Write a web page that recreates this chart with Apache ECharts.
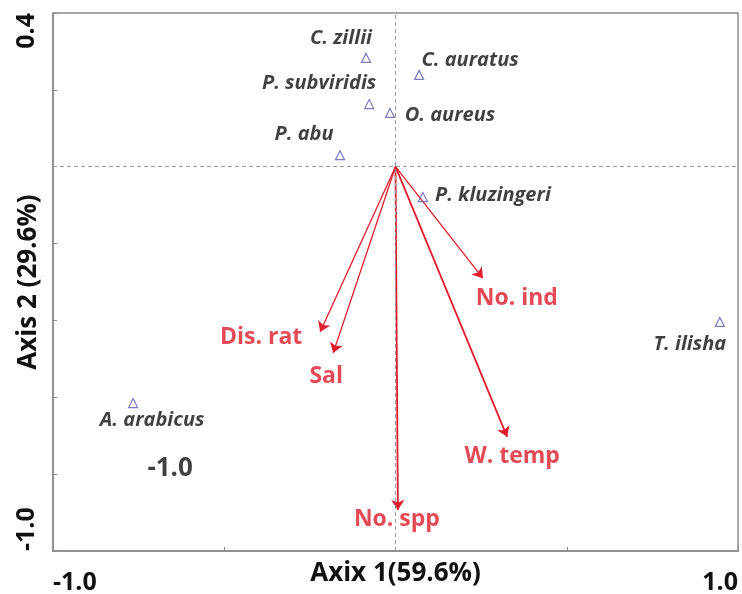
<!DOCTYPE html>
<html>
<head>
<meta charset="utf-8">
<script src="https://cdn.jsdelivr.net/npm/echarts@6/dist/echarts.min.js"></script>
<style>
html,body{margin:0;padding:0;background:#fff;}
#c{width:742px;height:594px;}
</style>
</head>
<body>
<div id="c"></div>
<script>
// ---- data ----
var speciesNames = ['C. zillii','P. subviridis','P. abu','C. auratus','O. aureus','P. kluzingeri','T. ilisha','A. arabicus'];
var speciesX = [-0.086, -0.077, -0.162, 0.069, -0.016, 0.080, 0.947, -0.766];
var speciesY = [0.283, 0.163, 0.030, 0.239, 0.140, -0.079, -0.404, -0.615];

var varNames = ['Dis. rat','Sal','No. ind','W. temp','No. spp'];
var varX = [-0.220, -0.182, 0.255, 0.326, 0.007];
var varY = [-0.430, -0.485, -0.290, -0.703, -0.893];

var xTickLabels = [-1.0, 1.0];
var yTickLabels = [0.4, -1.0];
var strayLabel = {text: '-1.0', x: -0.658, y: -0.785};

var xAxisTitle = 'Axix 1(59.6%)';
var yAxisTitle = 'Axis 2 (29.6%)';

// ---- label placement (pixel offsets, style only) ----
var speciesOffsets = {
  'C. zillii': [-25, -20],
  'P. subviridis': [-50, -21],
  'P. abu': [-36, -21],
  'C. auratus': [51, -15],
  'O. aureus': [60, 2],
  'P. kluzingeri': [70, -2],
  'T. ilisha': [-30, 22],
  'A. arabicus': [19, 17]
};
var varOffsets = {
  'Dis. rat': [-59, 5],
  'Sal': [-7, 23],
  'No. ind': [34, 20],
  'W. temp': [5, 20],
  'No. spp': [-1, 10]
};
var arrowWidths = {'Dis. rat':1.3, 'Sal':1.3, 'No. ind':1.3, 'W. temp':1.8, 'No. spp':1.8};

var FONT = 'Open Sans';
var RED = '#e01b2c';
var AXFS = 25;
var NAMEFS = 26;
var INK = '#111';

function isTickLabel(v, list){
  for (var i=0;i<list.length;i++){ if (Math.abs(v-list[i])<1e-6) return true; }
  return false;
}
function fmt(v){ return (Math.round(v*10)/10).toFixed(1); }

var speciesData = speciesNames.map(function(n,i){
  return {name:n, value:[speciesX[i], speciesY[i]],
    label:{offset:speciesOffsets[n]}};
});
var arrowData = varNames.map(function(n,i){
  return {name:n, coords:[[0,0],[varX[i],varY[i]]], lineStyle:{width:arrowWidths[n]}};
});
var varLabelData = varNames.map(function(n,i){
  return {name:n, value:[varX[i],varY[i]], label:{offset:varOffsets[n]}};
});

var chart = echarts.init(document.getElementById('c'));
chart.setOption({
  animation:false,
  backgroundColor:'#fff',
  grid:{left:53, top:13, right:4, bottom:43, containLabel:false, outerBoundsMode:'none',
    show:true, borderColor:'#8a8a8a', borderWidth:1.5},
  xAxis:{
    type:'value', min:-1, max:1, interval:0.5,
    name:xAxisTitle, nameLocation:'middle', nameGap:10, nameMoveOverlap:false,
    nameTextStyle:{fontFamily:FONT, fontWeight:'bold', fontSize:NAMEFS, color:INK},
    axisLine:{show:true, onZero:false, lineStyle:{color:'#8a8a8a', width:1.5}},
    axisTick:{show:true, inside:true, length:4, lineStyle:{color:'#8a8a8a'}},
    splitLine:{show:false},
    axisLabel:{fontFamily:FONT, fontWeight:'bold', fontSize:AXFS, color:INK, margin:19,
      alignMinLabel:'left', alignMaxLabel:'right',
      formatter:function(v){ return isTickLabel(v, xTickLabels) ? fmt(v) : ''; }}
  },
  yAxis:{
    type:'value', min:-1, max:0.4, interval:0.2,
    name:yAxisTitle, nameLocation:'middle', nameGap:11, nameRotate:90, nameMoveOverlap:false,
    nameTextStyle:{fontFamily:FONT, fontWeight:'bold', fontSize:NAMEFS, color:INK},
    axisLine:{show:true, onZero:false, lineStyle:{color:'#8a8a8a', width:1.5}},
    axisTick:{show:true, inside:true, length:4, lineStyle:{color:'#8a8a8a'}},
    splitLine:{show:false},
    axisLabel:{fontFamily:FONT, fontWeight:'bold', fontSize:AXFS, color:INK, margin:14, rotate:90,
      alignMinLabel:'left', alignMaxLabel:'right',
      formatter:function(v){ return isTickLabel(v, yTickLabels) ? fmt(v) : ''; }}
  },
  series:[
    {
      type:'scatter', name:'axes0', data:[], silent:true,
      markLine:{silent:true, symbol:'none', label:{show:false},
        lineStyle:{color:'#9a9a9a', type:[4,3], width:1},
        data:[{xAxis:0},{yAxis:0}]}
    },
    {
      type:'lines', coordinateSystem:'cartesian2d', data:arrowData, silent:true,
      symbol:['none','arrow'], symbolSize:[0,10],
      lineStyle:{color:RED, width:1.4, opacity:1}
    },
    {
      type:'scatter', data:varLabelData, symbolSize:0, silent:true,
      label:{show:true, position:'inside', formatter:'{b}', color:RED,
        fontFamily:FONT, fontWeight:'bold', fontSize:23}
    },
    {
      type:'scatter', data:speciesData, symbol:'triangle', symbolSize:9,
      itemStyle:{color:'rgba(255,255,255,0)', borderColor:'#5a5aae', borderWidth:1.2},
      label:{show:true, position:'inside', formatter:'{b}', color:INK,
        fontFamily:FONT, fontWeight:'bold', fontStyle:'italic', fontSize:20}
    },
    {
      type:'scatter', data:[{name:strayLabel.text, value:[strayLabel.x, strayLabel.y]}],
      symbolSize:0, silent:true,
      label:{show:true, position:'inside', formatter:'{b}', color:INK,
        fontFamily:FONT, fontWeight:'bold', fontSize:26}
    }
  ]
});
</script>
</body>
</html>
